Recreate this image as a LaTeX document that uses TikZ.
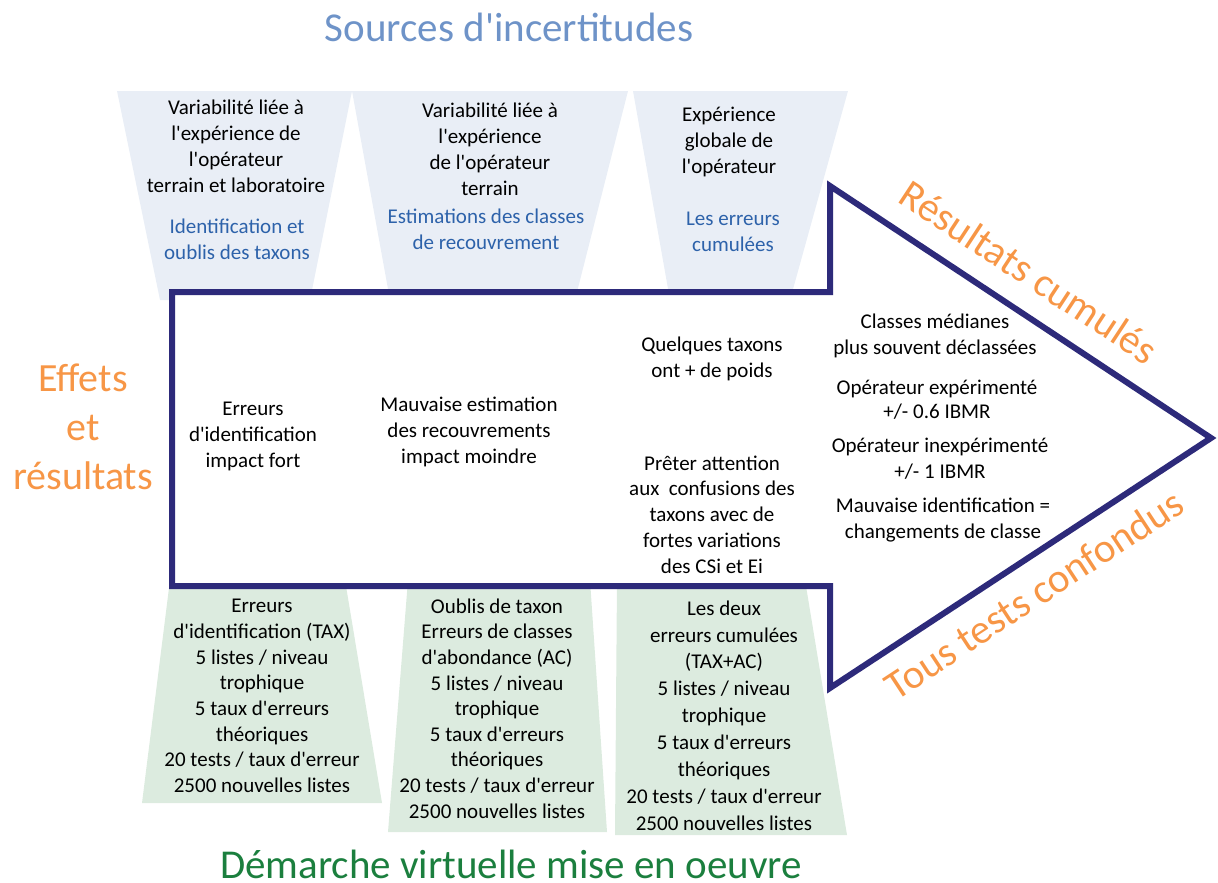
\documentclass[tikz,border=0pt]{standalone}
\usepackage{fontspec}
\setmainfont{Carlito}
\definecolor{topfill}{HTML}{E9EEF6}
\definecolor{botfill}{HTML}{DCEBDF}
\definecolor{navy}{HTML}{2D2A7A}
\definecolor{titleblue}{HTML}{6E93C8}
\definecolor{innerblue}{HTML}{2D62AA}
\definecolor{orangelbl}{HTML}{F79646}
\definecolor{greenlbl}{HTML}{1B7F3E}
\newcommand{\q}{\textquotesingle}
\begin{document}
\begin{tikzpicture}[x=1pt,y=-1pt,
  txt/.style={font=\fontsize{21}{26}\selectfont, align=center, inner sep=0pt},
  big/.style={font=\fontsize{41}{49}\selectfont, align=center, inner sep=0pt},
  topbox/.style={fill=topfill, draw=none},
  botbox/.style={fill=botfill, draw=none},
  arrowline/.style={draw=navy, line width=6pt, fill=white, line join=miter}]
\useasboundingbox (0,0) rectangle (1218,883);

% top trapezoids
\fill[topbox] (117,91) -- (352,91) -- (310,300) -- (160,300) -- cycle;
\fill[topbox] (352,91) -- (628,91) -- (575,300) -- (390,300) -- cycle;
\fill[topbox] (633,91) -- (848,91) -- (790,300) -- (670,300) -- cycle;
% bottom trapezoids
\fill[botbox] (170,580) -- (345,580) -- (382,803) -- (142,803) -- cycle;
\fill[botbox] (408,580) -- (590,580) -- (607,832) -- (388,832) -- cycle;
\fill[botbox] (617,580) -- (805,580) -- (847,835) -- (615,835) -- cycle;

% big arrow
\draw[arrowline] (172,292) -- (830,292) -- (830,186) -- (1211,438) -- (830,688) -- (830,586) -- (172,586) -- cycle;

% titles
\node[big, text=titleblue] (title) at (509,27) {Sources d\q{}incertitudes};
\node[big, text=greenlbl] (bottitle) at (511,864) {Démarche virtuelle mise en oeuvre};
\node[big, font=\fontsize{40}{49}\selectfont, text=orangelbl] (effets) at (83,427) {Effets\\et\\résultats};
\node[big, text=orangelbl, rotate=-33.3] (rc) at (1029,272) {Résultats cumulés};
\node[big, text=orangelbl, rotate=33.3] (ttc) at (1034,594) {Tous tests confondus};

% top texts
\node[txt] (t1) at (236,146.5) {Variabilité liée à\\l\q{}expérience de\\l\q{}opérateur\\terrain et laboratoire};
\node[txt, text=innerblue] (t1b) at (237,239.5) {Identification et\\oublis des taxons};
\node[txt] (t2) at (490,149.5) {Variabilité liée à\\l\q{}expérience\\de l\q{}opérateur\\terrain};
\node[txt, text=innerblue] (t2b) at (486,229) {Estimations des classes\\de recouvrement};
\node[txt] (t3) at (729,142) {Expérience\\globale de\\l\q{}opérateur};
\node[txt, text=innerblue] (t3b) at (733,232) {Les erreurs\\cumulées};

% arrow texts
\node[txt] (a1) at (253,436.5) {Erreurs\\d\q{}identification\\impact fort};
\node[txt] (a2) at (469,431.5) {Mauvaise estimation\\des recouvrements\\impact moindre};
\node[txt] (a3) at (712,359) {Quelques taxons\\ont + de poids};
\node[txt, font=\fontsize{21}{25.75}\selectfont] (a4) at (712,514.5) {Prêter attention\\aux\ \ confusions des\\taxons avec de\\fortes variations\\des CSi et Ei};
\node[txt] (a5) at (935,336) {Classes médianes\\plus souvent déclassées};
\node[txt, font=\fontsize{21}{24}\selectfont] (a6) at (937,400) {Opérateur expérimenté\\+/- 0.6 IBMR};
\node[txt] (a7) at (940,458.5) {Opérateur inexpérimenté\\+/- 1 IBMR};
\node[txt] (a8) at (943,520) {Mauvaise identification =\\changements de classe};

% bottom texts
\node[txt, font=\fontsize{21}{25.7}\selectfont] (b1) at (262,696) {Erreurs\\d\q{}identification (TAX)\\5 listes / niveau\\trophique\\5 taux d\q{}erreurs\\théoriques\\20 tests / taux d\q{}erreur\\2500 nouvelles listes};
\node[txt, font=\fontsize{21}{25.6}\selectfont] (b2) at (497,708.5) {Oublis de taxon\\Erreurs de classes\\d\q{}abondance (AC)\\5 listes / niveau\\trophique\\5 taux d\q{}erreurs\\théoriques\\20 tests / taux d\q{}erreur\\2500 nouvelles listes};
\node[txt, font=\fontsize{21}{26.9}\selectfont] (b3) at (724,715.5) {Les deux\\erreurs cumulées\\(TAX+AC)\\5 listes / niveau\\trophique\\5 taux d\q{}erreurs\\théoriques\\20 tests / taux d\q{}erreur\\2500 nouvelles listes};
\end{tikzpicture}
\end{document}
